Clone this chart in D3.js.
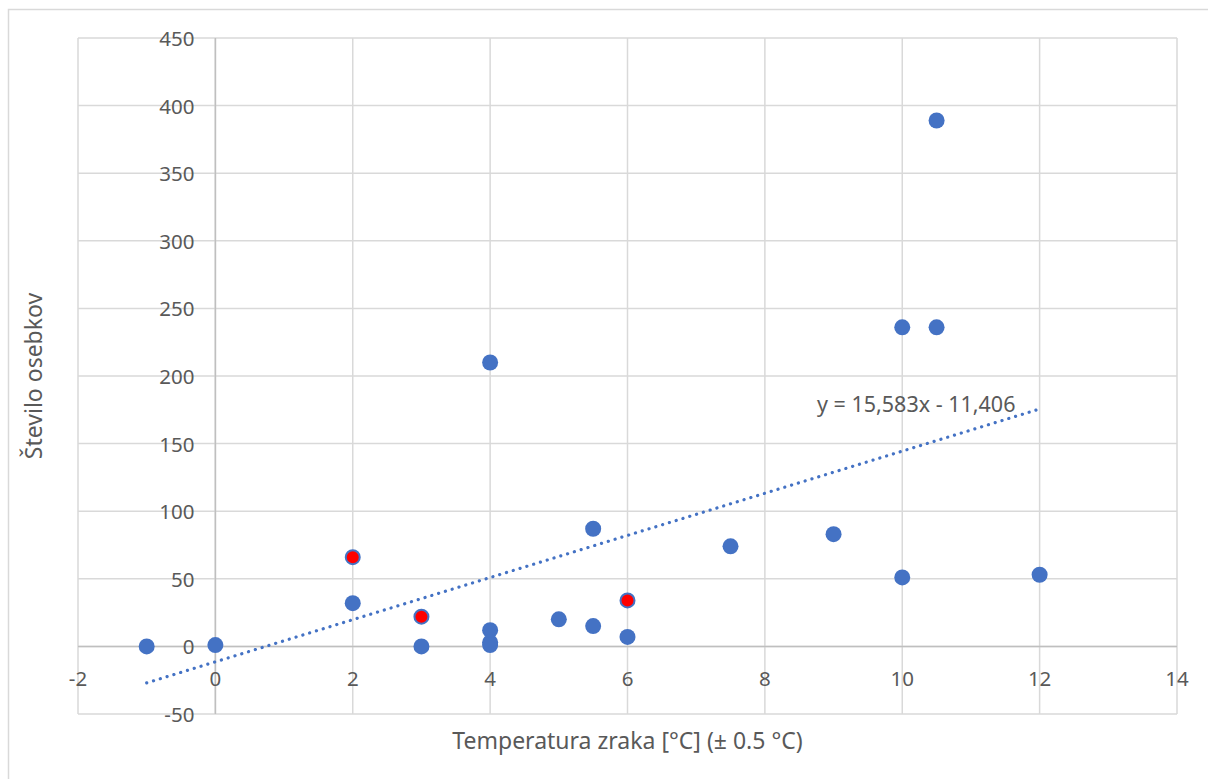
<!DOCTYPE html>
<html>
<head>
<meta charset="utf-8">
<script src="https://cdn.jsdelivr.net/npm/d3@7"></script>
<style>
  body { margin:0; background:#fff; }
  svg { display:block; font-family:"Noto Sans", "Open Sans", sans-serif; }
  .grid line { stroke:#d9d9d9; stroke-width:1.5; }
  .zero { stroke:#bfbfbf; stroke-width:1.5; }
  .tick-label { fill:#595959; font-size:20.5px; }
  .trend-label { fill:#595959; font-size:21.5px; }
  .title { fill:#595959; font-size:23px; }
</style>
</head>
<body>
<svg id="chart" width="1208" height="779"></svg>
<script>
// data
const tempX  = [-1, 0, 2, 3, 4, 4, 4, 4, 5, 5.5, 5.5, 6, 7.5, 9, 10, 10, 10.5, 10.5, 12];
const countY = [ 0, 1, 32, 0, 210, 12, 3, 1, 20, 87, 15, 7, 74, 83, 236, 51, 236, 389, 53];
const redX   = [2, 3, 6];
const redY   = [66, 22, 34];
const xTicks = [-2, 0, 2, 4, 6, 8, 10, 12, 14];
const yTicks = [-50, 0, 50, 100, 150, 200, 250, 300, 350, 400, 450];
const trendSlope = 15.583, trendIntercept = -11.406;
const trendRange = [-1, 12];
const trendLabel = "y = 15,583x - 11,406";

const svg = d3.select("#chart");

// outer chart border
svg.append("rect").attr("x", 8.5).attr("y", 9.5).attr("width", 1220).attr("height", 800)
    .attr("fill", "none").attr("stroke", "#d9d9d9").attr("stroke-width", 1.5);

const x = d3.scaleLinear().domain([-2, 14]).range([78, 1177]);
const y = d3.scaleLinear().domain([-50, 450]).range([714, 38]);

// gridlines
const grid = svg.append("g").attr("class", "grid");
grid.selectAll("line.h").data(yTicks).join("line").attr("class", "h")
    .attr("x1", x(-2)).attr("x2", x(14))
    .attr("y1", d => y(d)).attr("y2", d => y(d));
grid.selectAll("line.v").data(xTicks).join("line").attr("class", "v")
    .attr("x1", d => x(d)).attr("x2", d => x(d))
    .attr("y1", y(450)).attr("y2", y(-50));

// zero axes
svg.append("line").attr("class", "zero").attr("x1", x(-2)).attr("x2", x(14)).attr("y1", y(0)).attr("y2", y(0));
svg.append("line").attr("class", "zero").attr("x1", x(0)).attr("x2", x(0)).attr("y1", y(450)).attr("y2", y(-50));

// tick labels
svg.append("g").selectAll("text").data(yTicks).join("text")
    .attr("class", "tick-label")
    .attr("x", x(0) - 21).attr("y", d => y(d))
    .attr("text-anchor", "end").attr("dominant-baseline", "central")
    .text(d => d);
svg.append("g").selectAll("text").data(xTicks).join("text")
    .attr("class", "tick-label")
    .attr("x", d => x(d)).attr("y", y(0) + 32)
    .attr("text-anchor", "middle").attr("dominant-baseline", "central")
    .text(d => d);

// axis titles
svg.append("text").attr("class", "title")
    .attr("x", (x(-2) + x(14)) / 2).attr("y", 740)
    .attr("text-anchor", "middle").attr("dominant-baseline", "central")
    .text("Temperatura zraka [°C] (± 0.5 °C)");
svg.append("text").attr("class", "title")
    .attr("transform", `translate(33,${(y(450) + y(-50)) / 2}) rotate(-90)`)
    .attr("text-anchor", "middle").attr("dominant-baseline", "central")
    .text("Število osebkov");

// trendline
const line = d3.line().x(d => x(d)).y(d => y(trendSlope * d + trendIntercept));
svg.append("path").datum(trendRange).attr("d", line)
    .attr("fill", "none").attr("stroke", "#4472c4").attr("stroke-width", 3.2)
    .attr("stroke-linecap", "round").attr("stroke-dasharray", "0.1 7");
svg.append("text").attr("class", "trend-label")
    .attr("x", 817).attr("y", 403).attr("dominant-baseline", "central")
    .text(trendLabel);

// points
const pts = tempX.map((v, i) => ({ x: v, y: countY[i] }));
svg.append("g").selectAll("circle").data(pts).join("circle")
    .attr("cx", d => x(d.x)).attr("cy", d => y(d.y)).attr("r", 8)
    .attr("fill", "#4472c4");
const red = redX.map((v, i) => ({ x: v, y: redY[i] }));
svg.append("g").selectAll("circle").data(red).join("circle")
    .attr("cx", d => x(d.x)).attr("cy", d => y(d.y)).attr("r", 7)
    .attr("fill", "#ff0000").attr("stroke", "#4472c4").attr("stroke-width", 2);
</script>
</body>
</html>
